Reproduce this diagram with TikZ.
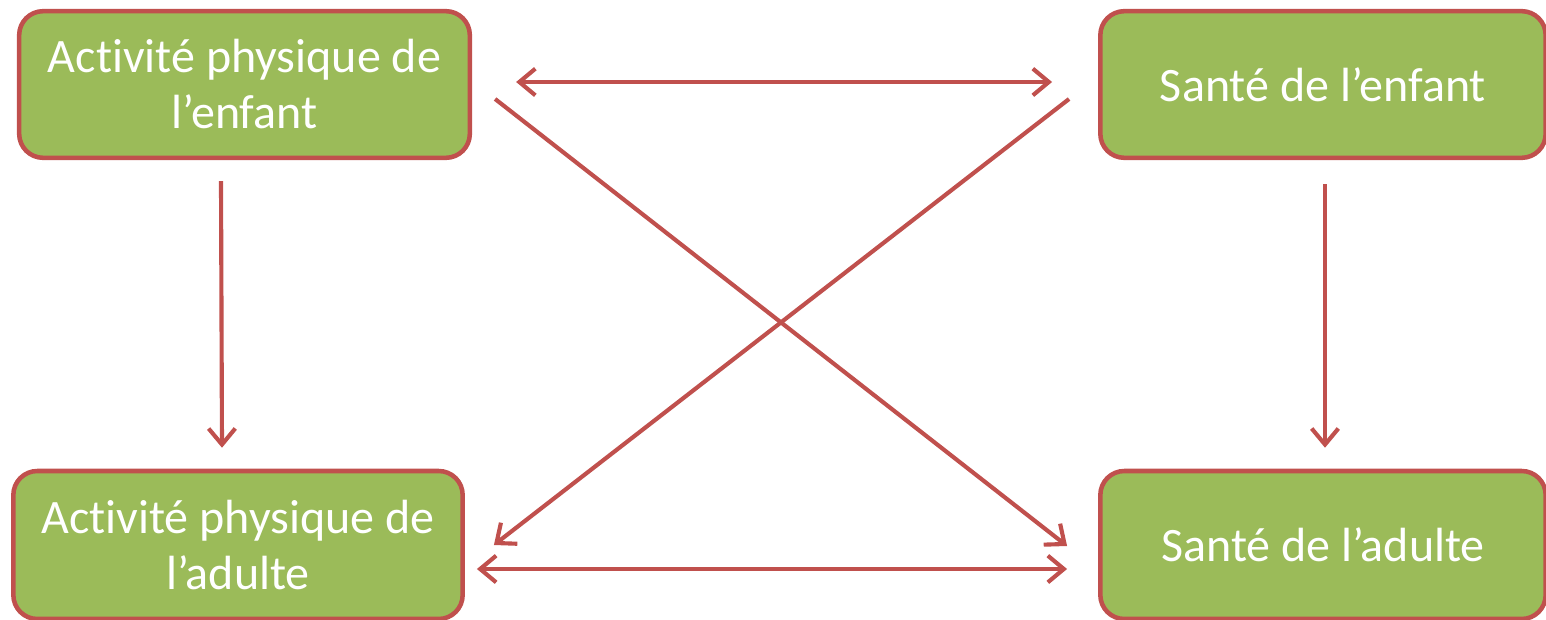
\documentclass[tikz,border=0pt]{standalone}
\usepackage{fontspec}
\setmainfont[Ligatures=NoCommon]{Carlito}
\usetikzlibrary{arrows.meta,calc}
\definecolor{boxgreen}{HTML}{9BBB59}
\definecolor{boxred}{HTML}{C0504D}
\tikzset{
  box/.style={draw=boxred, line width=3.4pt, fill=boxgreen, rounded corners=18pt,
    text=white, align=center, inner sep=0pt,
    font=\fontsize{36pt}{42pt}\selectfont},
  conn/.style={draw=boxred, line width=3.1pt},
  tip/.style={-{Straight Barb[length=12pt,width=20pt,line width=3.1pt]}},
  tips/.style={{Straight Barb[length=12pt,width=20pt,line width=3.1pt]}-{Straight Barb[length=12pt,width=20pt,line width=3.1pt]}}
}
\begin{document}
\begin{tikzpicture}[x=0.75pt,y=-0.75pt]
\useasboundingbox (0,0) rectangle (1546,620);
\node[box, minimum width=338pt, minimum height=110pt] (TL) at (244.5,84.5) {Activité physique de\\l’enfant};
\node[box, minimum width=334pt, minimum height=110pt] (TR) at (1323,84.5) {Santé de l’enfant};
\node[box, minimum width=337pt, minimum height=111pt] (BL) at (238,545) {Activité physique de\\l’adulte};
\node[box, minimum width=334pt, minimum height=111pt] (BR) at (1323,545) {Santé de l’adulte};
% horizontal double arrows
\draw[conn, tips] ($(TL.east)+(44,-2.5)$) -- ($(TR.west)+(-46,-2.5)$);
\draw[conn, tips] ($(BL.east)+(12,24)$) -- ($(BR.west)+(-31,24)$);
% vertical arrows
\draw[conn, tip] ($(TL.south)+(-23.5,21)$) -- ($(BL.north)+(-16,-21)$);
\draw[conn, tip] ($(TR.south)+(2,24)$) -- ($(BR.north)+(2,-21)$);
% diagonals
\draw[conn, tip] ($(TL.east)+(23,14.5)$) -- ($(BR.west)+(-31,1)$);
\draw[conn, tip] ($(TR.west)+(-29,14.5)$) -- ($(BL.east)+(29,0)$);
\end{tikzpicture}
\end{document}
